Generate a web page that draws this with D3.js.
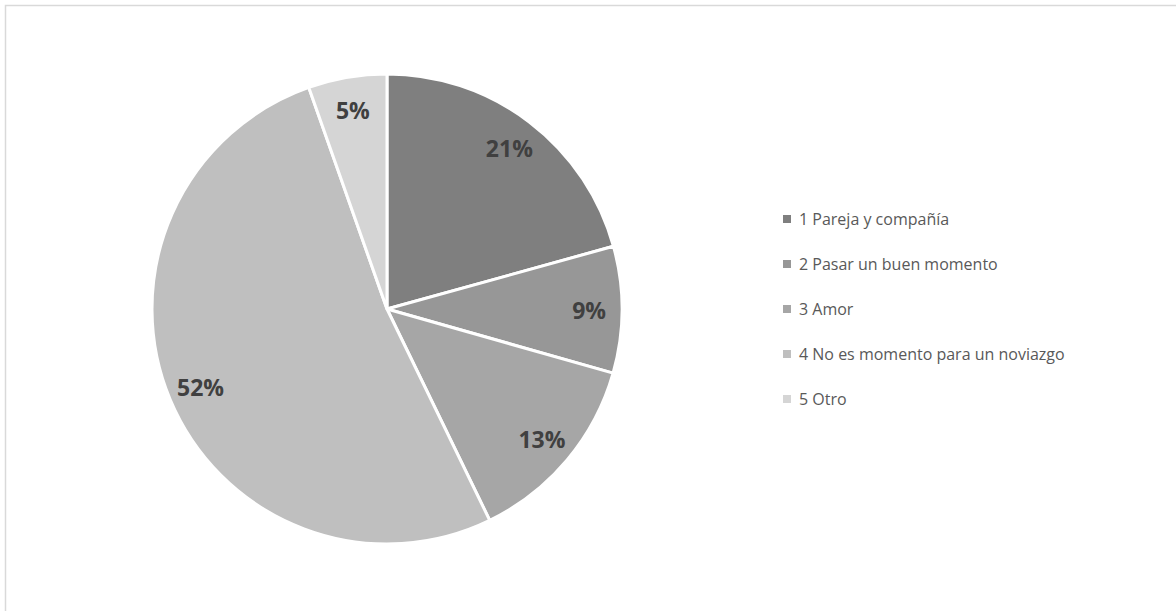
<!DOCTYPE html>
<html>
<head>
<meta charset="utf-8">
<script src="https://cdn.jsdelivr.net/npm/d3@7"></script>
<style>
  html, body { margin: 0; padding: 0; background: #fff; }
  svg { display: block; }
  text { font-family: "Open Sans", "Noto Sans", "DejaVu Sans", sans-serif; }
</style>
</head>
<body>
<svg id="chart" width="1176" height="611"></svg>
<script>
const categories = ["1 Pareja y compañía", "2 Pasar un buen momento", "3 Amor", "4 No es momento para un noviazgo", "5 Otro"];
const values = [20.7, 8.7, 13.4, 51.8, 5.4];
const colors = ["#7f7f7f", "#979797", "#a6a6a6", "#bfbfbf", "#d5d5d5"];

const svg = d3.select("#chart");
const W = 1176, H = 611;

// chart border
svg.append("rect")
  .attr("x", 5.5).attr("y", 5.5)
  .attr("width", W + 10).attr("height", H + 10)
  .attr("fill", "none").attr("stroke", "#d9d9d9").attr("stroke-width", 1.5);

const cx = 387, cy = 309, r = 235;
const data = categories.map((c, i) => ({ name: c, value: values[i], color: colors[i] }));
const total = d3.sum(values);

const pie = d3.pie().value(d => d.value).sort(null);
const arc = d3.arc().innerRadius(0).outerRadius(r);
const labelArc = d3.arc().innerRadius(r * 0.86).outerRadius(r * 0.86);

const g = svg.append("g").attr("transform", `translate(${cx},${cy})`);
const arcs = pie(data);

g.selectAll("path.slice").data(arcs).join("path")
  .attr("class", "slice")
  .attr("d", arc)
  .attr("fill", d => d.data.color)
  .attr("stroke", "#ffffff")
  .attr("stroke-width", 3)
  .attr("stroke-linejoin", "round");

g.selectAll("text.lbl").data(arcs).join("text")
  .attr("class", "lbl")
  .attr("transform", d => `translate(${labelArc.centroid(d)})`)
  .attr("text-anchor", "middle")
  .attr("dominant-baseline", "central")
  .attr("font-size", 23)
  .attr("font-weight", "bold")
  .attr("fill", "#404040")
  .text(d => Math.round(d.data.value / total * 100) + "%");

// legend
const legend = svg.append("g").attr("transform", "translate(783,219)");
const rows = legend.selectAll("g").data(data).join("g")
  .attr("transform", (d, i) => `translate(0,${i * 45})`);
rows.append("rect")
  .attr("x", 0).attr("y", -4).attr("width", 8).attr("height", 8)
  .attr("fill", d => d.color);
rows.append("text")
  .attr("x", 16).attr("y", 0)
  .attr("dominant-baseline", "central")
  .attr("font-size", 16)
  .attr("fill", "#595959")
  .text(d => d.name);
</script>
</body>
</html>
